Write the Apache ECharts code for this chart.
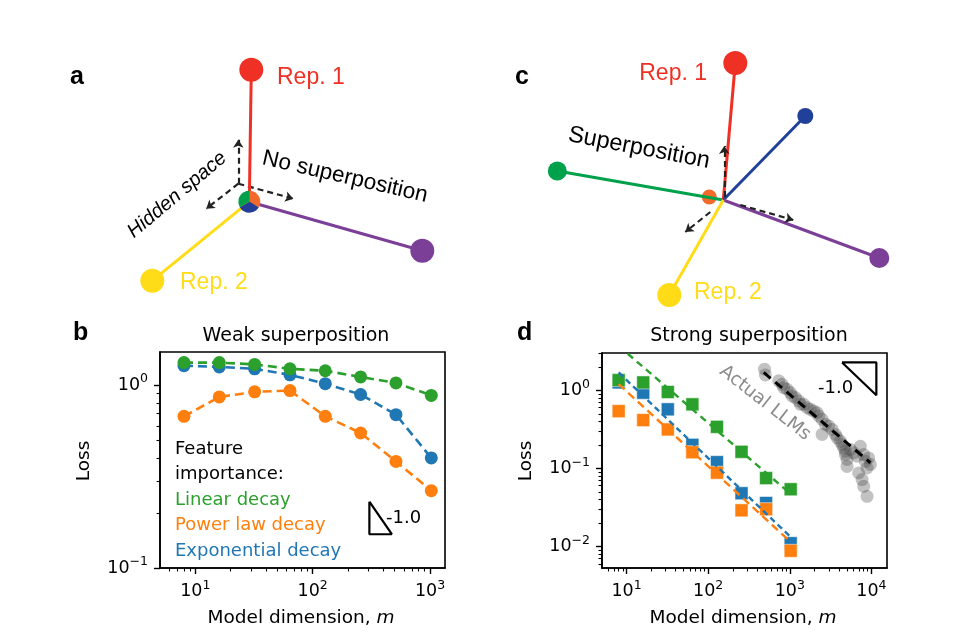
<!DOCTYPE html>
<html><head><meta charset="utf-8">
<script src="https://cdn.jsdelivr.net/npm/echarts@6/dist/echarts.min.js"></script>
<style>html,body{margin:0;padding:0;background:#fff}#c{width:955px;height:640px}</style>
</head><body><div id="c"></div>
<script>
// ---------- data ----------
const modelDims = [8, 16, 32, 64, 128, 256, 512, 1024];
const weakLinear = [1.33, 1.33, 1.30, 1.23, 1.20, 1.11, 1.03, 0.88];
const weakPower  = [0.676, 0.863, 0.92, 0.935, 0.676, 0.548, 0.383, 0.265];
const weakExp    = [1.28, 1.26, 1.23, 1.14, 1.02, 0.89, 0.69, 0.40];
const strongLinear = [1.35, 1.26, 0.95, 0.66, 0.34, 0.163, 0.075, 0.054];
const strongPower  = [0.54, 0.415, 0.315, 0.161, 0.088, 0.029, 0.030, 0.0088];
const strongExp    = [1.26, 0.93, 0.57, 0.20, 0.12, 0.048, 0.036, 0.011];
const fitLinear = [[8, 3.7], [1024, 0.047]];
const fitPower  = [[8, 1.2], [1024, 0.0114]];
const fitExp    = [[8, 1.69], [1024, 0.0132]];
const llmDims = [489,502,731,805,843,927,1016,1066,1172,1286,1349,1480,1628,1787,1963,2158,2261,2485,2485,2729,2994,3294,3616,3792,4161,4365,4571,4790,4790,5024,5024,5521,6058,6663,7311,8035,8420,8830,6970,7670,8035,8830,9250,9700];
const llmLoss = [1.86,1.57,1.32,1.19,1.08,1.03,0.933,0.845,0.805,0.729,0.661,0.661,0.599,0.570,0.542,0.517,0.468,0.424,0.272,0.366,0.348,0.315,0.272,0.247,0.223,0.202,0.183,0.166,0.150,0.130,0.106,0.175,0.158,0.143,0.192,0.150,0.123,0.101,0.0875,0.0718,0.0589,0.0438,0.136,0.112];
const llmFit = [[479, 1.69], [9700, 0.118]];
const slopeB = [[304, 0.2306], [304, 0.153], [472, 0.153], [304, 0.2306]];
const slopeD = [[4365, 2.27], [11480, 2.27], [11480, 0.862], [4365, 2.27]];
const xTicksB = [10, 100, 1000];
const yTicksB = [0.1, 1];
const xTicksD = [10, 100, 1000, 10000];
const yTicksD = [0.01, 0.1, 1];
const xMinorB = [6,7,8,9,20,30,40,50,60,70,80,90,200,300,400,500,600,700,800,900];
const yMinorB = [0.2,0.3,0.4,0.5,0.6,0.7,0.8,0.9];
const xMinorD = [6,7,8,9,20,30,40,50,60,70,80,90,200,300,400,500,600,700,800,900,2000,3000,4000,5000,6000,7000,8000,9000];
const yMinorD = [0.006,0.007,0.008,0.009,0.02,0.03,0.04,0.05,0.06,0.07,0.08,0.09,0.2,0.3,0.4,0.5,0.6,0.7,0.8,0.9,2,3];
// schematic vectors (local units, y up), from the common origin
const armsA = [[2, 132], [-97, -79], [173, -49]];            // Rep.1, Rep.2, Rep.3
const hiddenAxesA = [[[-11, 18], [-11, 62]], [[-11, 18], [-43, -7]], [[-11, 18], [44, 3]]];
const armsC = [[-166, 29], [12, 137], [82, 84], [156, -58], [-54, -95], [-14, 3]]; // green, red, blue, purple, yellow, orange
const hiddenAxesC = [[[1, 3], [1, 54]], [[-13, -12], [-38, -32]], [[17, -5], [70, -20]]];

// ---------- styles ----------
const C_BLUE = '#1f77b4', C_ORANGE = '#ff7f0e', C_GREEN = '#2ca02c';
const armColorsA = ['#ee3124', '#ffdc17', '#7b3f98'];
const dotSizesA = [24, 24, 24];
const armColorsC = ['#00a14b', '#ee3124', '#21409a', '#7b3f98', '#ffdc17', '#f26a29'];
const dotSizesC = [19, 24, 16, 20, 24, 15];
const FONT = 'DejaVu Sans';

function powLabel(v) {
  const e = Math.round(Math.log10(v));
  return '{b|10}{s|' + (e < 0 ? '\u2212' + (-e) : e) + '}';
}
const labelRich = {
  b: {fontSize: 17.5, fontFamily: FONT, color: '#000'},
  s: {fontSize: 12.5, fontFamily: FONT, color: '#000', padding: [0, 0, 12, 0]}
};
function mainAxis(grid, min, max, ticks, isX) {
  return {
    type: 'log', logBase: 10, gridIndex: grid, min: min, max: max,
    position: isX ? 'bottom' : 'left',
    axisLine: {show: true, lineStyle: {color: '#000', width: 1.6}},
    axisTick: {show: true, length: 6, lineStyle: {color: '#000', width: 1.4}, customValues: ticks},
    axisLabel: {show: true, customValues: ticks, formatter: powLabel, rich: labelRich, margin: isX ? 11 : 12},
    splitLine: {show: false}, minorTick: {show: false}
  };
}
function minorAxis(grid, min, max, ticks, isX) {
  return {
    type: 'log', logBase: 10, gridIndex: grid, min: min, max: max,
    position: isX ? 'bottom' : 'left', offset: 0,
    axisLine: {show: false},
    axisTick: {show: true, length: 3.5, lineStyle: {color: '#000', width: 1.1}, customValues: ticks},
    axisLabel: {show: false}, splitLine: {show: false}
  };
}
function hiddenAxis(grid, min, max) {
  return {type: 'value', gridIndex: grid, min: min, max: max, show: false, splitLine: {show: false}};
}
const zip = (xs, ys) => xs.map((x, i) => [x, ys[i]]);

function weakSeries(vals, color) {
  return {type: 'line', xAxisIndex: 0, yAxisIndex: 0, data: zip(modelDims, vals),
    symbol: 'circle', symbolSize: 13, showSymbol: true,
    itemStyle: {color: color, opacity: 1}, lineStyle: {color: color, width: 2.6, type: [9, 5]}, z: 3};
}
function strongSquares(vals, color, z) {
  return {type: 'scatter', xAxisIndex: 2, yAxisIndex: 2, data: zip(modelDims, vals),
    symbol: 'rect', symbolSize: 13,
    itemStyle: {color: color, opacity: 1, borderColor: 'rgba(255,255,255,0.5)', borderWidth: 1}, z: z};
}
function fitLine(pts, color, dash) {
  return {type: 'line', xAxisIndex: 2, yAxisIndex: 2, data: pts, symbol: 'none', clip: true,
    lineStyle: {color: color, width: 2.4, type: dash}, z: 6};
}

const option = {
  animation: false,
  backgroundColor: '#fff',
  grid: [
    {left: 160, top: 352, width: 285, height: 216, show: true, borderColor: '#000', borderWidth: 1.6, backgroundColor: 'transparent'},
    {left: 602, top: 353, width: 285, height: 215, show: true, borderColor: '#000', borderWidth: 1.6, backgroundColor: 'transparent'},
    {left: 69.3, top: 41.7, width: 400, height: 270},
    {left: 523.3, top: 40, width: 400, height: 270}
  ],
  xAxis: [
    mainAxis(0, 5, 1340, xTicksB, true),
    minorAxis(0, 5, 1340, xMinorB, true),
    mainAxis(1, 5, 15500, xTicksD, true),
    minorAxis(1, 5, 15500, xMinorD, true),
    hiddenAxis(2, -180, 220),
    hiddenAxis(3, -200, 200)
  ],
  yAxis: [
    mainAxis(0, 0.1, 1.52, yTicksB, false),
    minorAxis(0, 0.1, 1.52, yMinorB, false),
    mainAxis(1, 0.0053, 3, yTicksD, false),
    minorAxis(1, 0.0053, 3, yMinorD, false),
    hiddenAxis(2, -110, 160),
    hiddenAxis(3, -110, 160)
  ],
  series: [
    // panel b
    weakSeries(weakExp, C_BLUE),
    weakSeries(weakPower, C_ORANGE),
    weakSeries(weakLinear, C_GREEN),
    {type: 'line', xAxisIndex: 0, yAxisIndex: 0, data: slopeB, symbol: 'none',
      lineStyle: {color: '#000', width: 2.2}, z: 4},
    // panel d
    {type: 'scatter', xAxisIndex: 2, yAxisIndex: 2, data: zip(llmDims, llmLoss), symbol: 'circle', symbolSize: 13,
      itemStyle: {color: 'rgba(70,70,70,0.33)', opacity: 1}, z: 2},
    {type: 'line', xAxisIndex: 2, yAxisIndex: 2, data: llmFit, symbol: 'none',
      lineStyle: {color: '#000', width: 3, type: [9, 6]}, z: 6},
    strongSquares(strongExp, C_BLUE, 3),
    strongSquares(strongPower, C_ORANGE, 4),
    strongSquares(strongLinear, C_GREEN, 5),
    fitLine(fitExp, C_BLUE, [6, 4]),
    fitLine(fitPower, C_ORANGE, [8, 5]),
    fitLine(fitLinear, C_GREEN, [7, 5]),
    {type: 'line', xAxisIndex: 2, yAxisIndex: 2, data: slopeD, symbol: 'none',
      lineStyle: {color: '#000', width: 2.2}, z: 6},
    // panel a
    {type: 'lines', coordinateSystem: 'cartesian2d', xAxisIndex: 4, yAxisIndex: 4,
      data: hiddenAxesA.map(c => ({coords: c})), symbol: ['none', 'arrow'], symbolSize: 8,
      lineStyle: {color: '#222', width: 2.2, type: [6, 4], opacity: 1}, z: 2},
    {type: 'lines', coordinateSystem: 'cartesian2d', xAxisIndex: 4, yAxisIndex: 4,
      data: armsA.map((e, i) => ({coords: [[0, 0], e], lineStyle: {color: armColorsA[i]}})),
      lineStyle: {width: 3, opacity: 1}, z: 3},
    {type: 'scatter', xAxisIndex: 4, yAxisIndex: 4, symbol: 'circle',
      data: armsA.map((e, i) => ({value: e, symbolSize: dotSizesA[i], itemStyle: {color: armColorsA[i], opacity: 1}})), z: 4},
    {type: 'custom', coordinateSystem: 'cartesian2d', xAxisIndex: 4, yAxisIndex: 4, data: [[0, 0]], z: 10,
      renderItem: function (params, api) {
        const c = api.coord([api.value(0), api.value(1)]);
        const parts = [[-90, 30, '#f26a29'], [30, 150, '#233e97'], [150, 270, '#02a04b']];
        return {type: 'group', children: parts.map(p => ({
          type: 'sector',
          shape: {cx: c[0], cy: c[1], r0: 0, r: 11, startAngle: p[0] * Math.PI / 180, endAngle: p[1] * Math.PI / 180, clockwise: true},
          style: {fill: p[2]}
        }))};
      }},
    // panel c
    {type: 'lines', coordinateSystem: 'cartesian2d', xAxisIndex: 5, yAxisIndex: 5,
      data: hiddenAxesC.map(c => ({coords: c})), symbol: ['none', 'arrow'], symbolSize: 8,
      lineStyle: {color: '#222', width: 2.2, type: [6, 4], opacity: 1}, z: 5},
    {type: 'scatter', xAxisIndex: 5, yAxisIndex: 5, symbol: 'circle',
      data: armsC.map((e, i) => ({value: e, symbolSize: dotSizesC[i], itemStyle: {color: armColorsC[i], opacity: 1}})), z: 3},
    {type: 'lines', coordinateSystem: 'cartesian2d', xAxisIndex: 5, yAxisIndex: 5,
      data: armsC.slice(0, 5).map((e, i) => ({coords: [[0, 0], e], lineStyle: {color: armColorsC[i]}})),
      lineStyle: {width: 3, opacity: 1}, z: 4}
  ],
  graphic: [
    // panel letters
    {type: 'text', x: 70, y: 77, style: {text: 'a', font: 'bold 25px "Liberation Sans"', fill: '#000', verticalAlign: 'middle'}},
    {type: 'text', x: 73, y: 333, style: {text: 'b', font: 'bold 25px "Liberation Sans"', fill: '#000', verticalAlign: 'middle'}},
    {type: 'text', x: 515, y: 77, style: {text: 'c', font: 'bold 25px "Liberation Sans"', fill: '#000', verticalAlign: 'middle'}},
    {type: 'text', x: 517, y: 333, style: {text: 'd', font: 'bold 25px "Liberation Sans"', fill: '#000', verticalAlign: 'middle'}},
    // panel a texts
    {type: 'text', x: 277, y: 78, style: {text: 'Rep. 1', font: '23px "Liberation Sans"', fill: '#ee3124', verticalAlign: 'middle'}},
    {type: 'text', x: 180, y: 283, style: {text: 'Rep. 2', font: '23px "Liberation Sans"', fill: '#ffdc17', verticalAlign: 'middle'}},
    {type: 'text', x: 345, y: 177, rotation: -13 * Math.PI / 180,
      style: {text: 'No superposition', font: '22.5px "Liberation Sans"', fill: '#000', align: 'center', verticalAlign: 'middle'}},
    {type: 'text', x: 177, y: 195, rotation: 40 * Math.PI / 180,
      style: {text: 'Hidden space', font: 'italic 20px "Liberation Sans"', fill: '#000', align: 'center', verticalAlign: 'middle'}},
    // panel c texts
    {type: 'text', x: 707, y: 74, style: {text: 'Rep. 1', font: '23px "Liberation Sans"', fill: '#ee3124', align: 'right', verticalAlign: 'middle'}},
    {type: 'text', x: 694, y: 293, style: {text: 'Rep. 2', font: '23px "Liberation Sans"', fill: '#ffdc17', verticalAlign: 'middle'}},
    {type: 'text', x: 639, y: 148, rotation: -11 * Math.PI / 180,
      style: {text: 'Superposition', font: '23.5px "Liberation Sans"', fill: '#000', align: 'center', verticalAlign: 'middle'}},
    // panel b texts
    {type: 'text', x: 296, y: 336, style: {text: 'Weak superposition', font: '19px "DejaVu Sans"', fill: '#000', align: 'center', verticalAlign: 'middle'}},
    {type: 'text', x: 84, y: 461, rotation: Math.PI / 2, style: {text: 'Loss', font: '18.5px "DejaVu Sans"', fill: '#000', align: 'center', verticalAlign: 'middle'}},
    {type: 'text', x: 301, y: 618, style: {text: '{n|Model dimension, }{i|m}', align: 'center', verticalAlign: 'middle',
      rich: {n: {font: '18.5px "DejaVu Sans"', fill: '#000'}, i: {font: 'italic 18.5px "DejaVu Sans"', fill: '#000'}}}},
    {type: 'text', x: 175, y: 449, style: {text: 'Feature', font: '18px "DejaVu Sans"', fill: '#000', verticalAlign: 'middle'}},
    {type: 'text', x: 175, y: 474, style: {text: 'importance:', font: '18px "DejaVu Sans"', fill: '#000', verticalAlign: 'middle'}},
    {type: 'text', x: 175, y: 500, style: {text: 'Linear decay', font: '18px "DejaVu Sans"', fill: C_GREEN, verticalAlign: 'middle'}},
    {type: 'text', x: 175, y: 525.5, style: {text: 'Power law decay', font: '18px "DejaVu Sans"', fill: C_ORANGE, verticalAlign: 'middle'}},
    {type: 'text', x: 175, y: 551, style: {text: 'Exponential decay', font: '18px "DejaVu Sans"', fill: C_BLUE, verticalAlign: 'middle'}},
    {type: 'text', x: 386, y: 518, style: {text: '-1.0', font: '18px "DejaVu Sans"', fill: '#000', verticalAlign: 'middle'}},
    // panel d texts
    {type: 'text', x: 749, y: 336, style: {text: 'Strong superposition', font: '19px "DejaVu Sans"', fill: '#000', align: 'center', verticalAlign: 'middle'}},
    {type: 'text', x: 526, y: 461, rotation: Math.PI / 2, style: {text: 'Loss', font: '18.5px "DejaVu Sans"', fill: '#000', align: 'center', verticalAlign: 'middle'}},
    {type: 'text', x: 743, y: 618, style: {text: '{n|Model dimension, }{i|m}', align: 'center', verticalAlign: 'middle',
      rich: {n: {font: '18.5px "DejaVu Sans"', fill: '#000'}, i: {font: 'italic 18.5px "DejaVu Sans"', fill: '#000'}}}},
    {type: 'text', x: 818, y: 388, style: {text: '-1.0', font: '18px "DejaVu Sans"', fill: '#000', verticalAlign: 'middle'}},
    {type: 'text', x: 765, y: 403, rotation: -38 * Math.PI / 180, z: 1,
      style: {text: 'Actual LLMs', font: '18.5px "DejaVu Sans"', fill: '#8c8c8c', align: 'center', verticalAlign: 'middle'}}
  ]
};
const chart = echarts.init(document.getElementById('c'), null, {renderer: 'canvas'});
chart.setOption(option);
</script></body></html>
